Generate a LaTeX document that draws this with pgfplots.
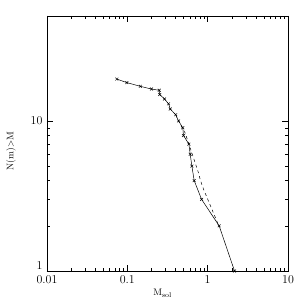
\documentclass[border=0pt]{standalone}
\usepackage{pgfplots}
\pgfplotsset{compat=1.18}
\begin{document}
\begin{tikzpicture}
\begin{axis}[
  at={(0,0)}, anchor=south west,
  scale only axis, width=241pt, height=255pt,
  xmode=log, ymode=log,
  xmin=0.01, xmax=10, ymin=1, ymax=50,
  xtick={0.01,0.1,1,10}, xticklabels={0.01,0.1,1,10},
  ytick={1,10}, yticklabels={\raisebox{10pt}{1},10},
  tick align=inside, ticks=both,
  major tick length=6pt, minor tick length=3pt,
  xtick pos=both, ytick pos=both,
  tick style={black, line width=0.4pt},
  axis line style={line width=0.5pt},
  tick label style={font=\fontsize{12}{12}\selectfont},
  xticklabel style={yshift=-1pt},
  yticklabel style={xshift=-1pt},
  xlabel={M$_{\mathrm{sol}}$},
  ylabel={N(m)$>$M},
  label style={font=\fontsize{9.5}{10}\selectfont},
  xlabel style={at={(axis description cs:0.48,0)}, anchor=center, yshift=-22pt},
  ylabel style={at={(axis description cs:-0.149,0.47)}, anchor=center},
]
\addplot[black, line width=0.5pt, mark=x, mark size=2pt] coordinates {
(0.074,19) (0.0985,18) (0.145,17) (0.20,16.3) (0.25,16) (0.253,15) (0.29,14) (0.326,13) (0.342,12) (0.40,11) (0.434,10) (0.49,9) (0.50,8) (0.584,7) (0.606,6) (0.636,5) (0.68,4) (0.84,3) (1.39,2) (2.16,1)
};
\addplot[black, line width=0.5pt, dashed, mark=none] coordinates {
(0.40,11) (0.45,9.6) (0.525,8.3) (0.643,6) (0.77,4.5) (0.81,4.04) (0.89,3.5) (1.36,2.03)
};
\end{axis}
\useasboundingbox (-47pt,-33pt) rectangle (257pt,271pt);
\end{tikzpicture}
\end{document}
